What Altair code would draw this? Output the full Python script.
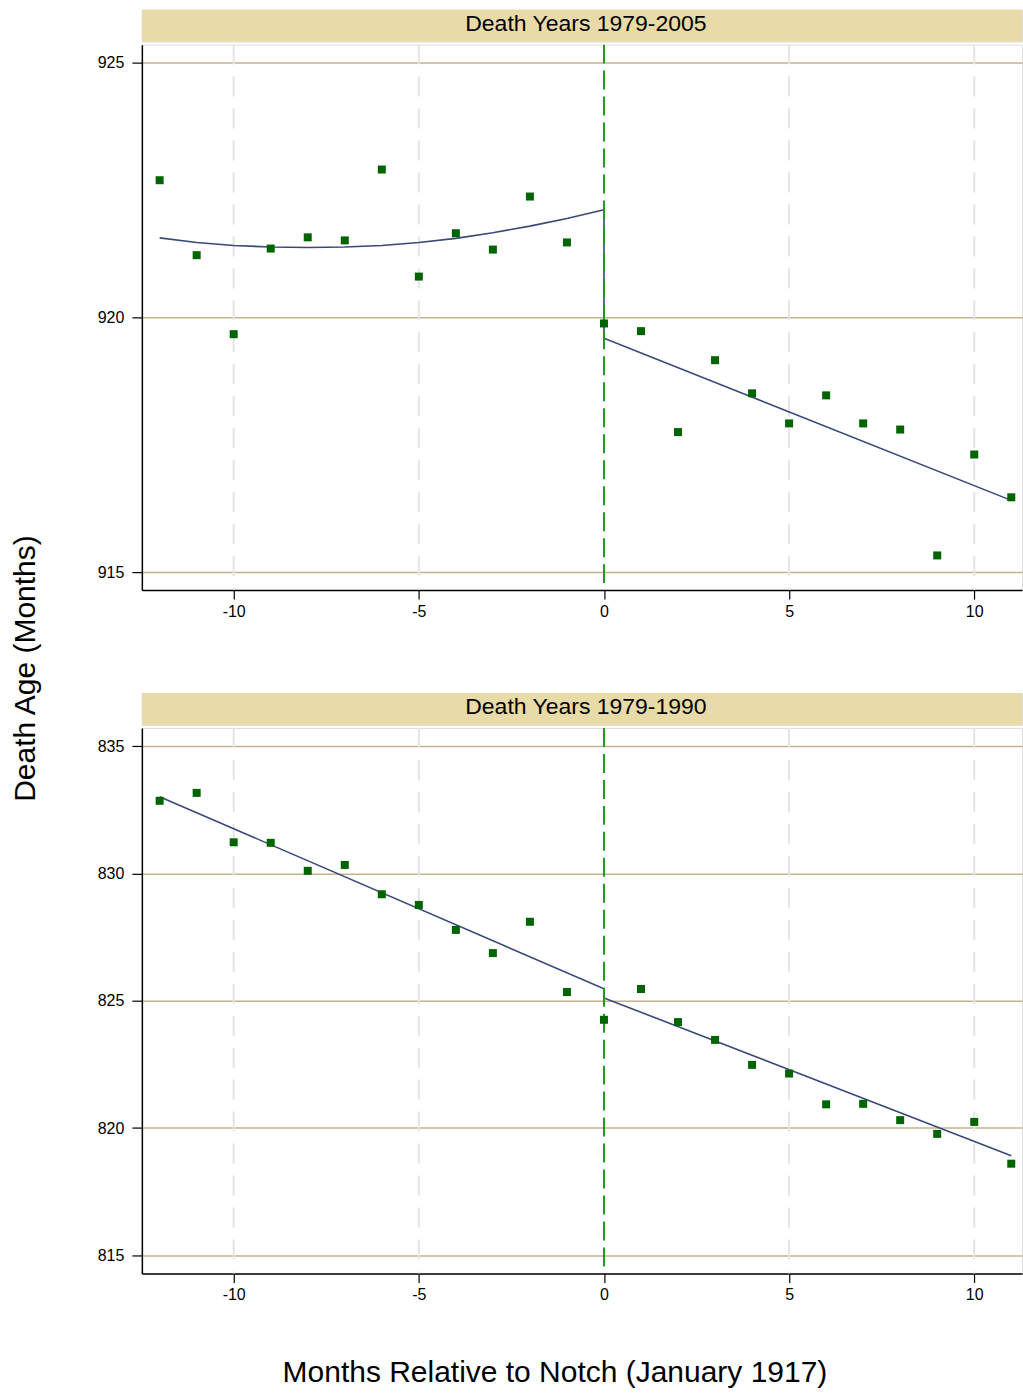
import altair as alt
import pandas as pd

# ---------------- data ----------------
months = list(range(-12, 12))

top_title = "Death Years 1979-2005"
top_age = [922.69, 921.22, 919.67, 921.35, 921.57, 921.51, 922.90, 920.80,
           921.65, 921.33, 922.37, 921.47, 919.88, 919.73, 917.75, 919.16,
           918.51, 917.92, 918.47, 917.92, 917.80, 915.33, 917.31, 916.47]
top_fit_left_x = list(range(-12, 1))
top_fit_left = [921.56, 921.47, 921.41, 921.38, 921.37, 921.38, 921.41,
                921.47, 921.55, 921.66, 921.79, 921.94, 922.11]
top_fit_right_x = [0, 11]
top_fit_right = [919.59, 916.41]
top_ticks = [915, 920, 925]
top_domain = [914.65, 925.35]

bot_title = "Death Years 1979-1990"
bot_age = [832.85, 833.16, 831.22, 831.20, 830.10, 830.33, 829.18, 828.76,
           827.78, 826.87, 828.10, 825.34, 824.25, 825.46, 824.16, 823.46,
           822.48, 822.14, 820.93, 820.95, 820.31, 819.77, 820.24, 818.60]
bot_fit_left_x = [-12, 0]
bot_fit_left = [833.01, 825.47]
bot_fit_right_x = [0, 11]
bot_fit_right = [825.11, 818.91]
bot_ticks = [815, 820, 825, 830, 835]
bot_domain = [814.29, 835.71]

x_ticks = [-10, -5, 0, 5, 10]
vgrid_x = [-10, -5, 5, 10]
notch_x = [0]
x_domain = [-12.48, 11.29]

# ---------------- styling ----------------
FONT = "Liberation Sans"
W, H, SH = 881, 546, 32
STRIP = "#E8DBA8"
HGRID = "#C4B38A"
VGRID = "#E4E4E4"
NOTCH = "#1E9A1E"
PT = "#006400"
FIT = "#3A4878"


def strip_chart(title):
    df = pd.DataFrame({"t": [title]})
    rect = alt.Chart(df).mark_rect(color=STRIP).encode(
        x=alt.value(0), x2=alt.value(W), y=alt.value(0), y2=alt.value(SH)
    )
    txt = alt.Chart(df).mark_text(
        font=FONT, fontSize=23, color="black", baseline="middle", align="center"
    ).encode(x=alt.value(W / 2 + 4), y=alt.value(14), text="t:N")
    return (rect + txt).properties(width=W, height=SH)


def panel(age, fl_x, fl, fr_x, fr, ticks, domain, show_xtitle):
    pts = pd.DataFrame({"x": months, "y": age})
    fit = pd.DataFrame({
        "x": fl_x + fr_x,
        "y": fl + fr,
        "o": list(range(len(fl_x) + len(fr_x))),
    })
    vg = pd.DataFrame({"x": vgrid_x})
    nx = pd.DataFrame({"x": notch_x})

    common = dict(
        values=x_ticks, grid=False, domainColor="black", domainWidth=1.5,
        tickColor="black", tickSize=9, tickWidth=1.2, labelFont=FONT,
        labelFontSize=16, labelColor="black", labelPadding=4,
        labelExpr="datum.value + ''",
    )
    if show_xtitle:
        xaxis = alt.Axis(
            title="Months Relative to Notch (January 1917)",
            titleFont=FONT, titleFontSize=30, titleFontWeight="normal",
            titleColor="black", titlePadding=55, titleX=413, **common,
        )
    else:
        xaxis = alt.Axis(title=None, **common)
    xs = alt.Scale(domain=x_domain, nice=False, zero=False)
    ys = alt.Scale(domain=domain, nice=False, zero=False)
    yaxis = alt.Axis(
        values=ticks, grid=True, gridColor=HGRID, gridWidth=1.5,
        domainColor="black", domainWidth=1.5, tickColor="black", tickSize=10,
        tickWidth=1.2, labelFont=FONT, labelFontSize=16, labelColor="black",
        labelPadding=8, title=None,
    )

    vgrid = alt.Chart(vg).mark_rule(
        color=VGRID, strokeWidth=2, strokeDash=[20, 12]
    ).encode(x=alt.X("x:Q", scale=xs, axis=xaxis))
    notch = alt.Chart(nx).mark_rule(
        color=NOTCH, strokeWidth=2, strokeDash=[19, 7]
    ).encode(x=alt.X("x:Q", scale=xs))
    line = alt.Chart(fit).mark_line(color=FIT, strokeWidth=1.6).encode(
        x=alt.X("x:Q", scale=xs),
        y=alt.Y("y:Q", scale=ys, axis=yaxis),
        order="o:Q",
    )
    points = alt.Chart(pts).mark_square(color=PT, size=64, opacity=1).encode(
        x=alt.X("x:Q", scale=xs),
        y=alt.Y("y:Q", scale=ys),
    )
    return alt.layer(vgrid, line, notch, points).properties(width=W, height=H)


top = alt.vconcat(
    strip_chart(top_title),
    panel(top_age, top_fit_left_x, top_fit_left, top_fit_right_x,
          top_fit_right, top_ticks, top_domain, False),
    spacing=0,
)
bot = alt.vconcat(
    strip_chart(bot_title),
    panel(bot_age, bot_fit_left_x, bot_fit_left, bot_fit_right_x,
          bot_fit_right, bot_ticks, bot_domain, True),
    spacing=0,
)

chart = alt.vconcat(top, bot, spacing=72).properties(
    title=alt.TitleParams(
        "Death Age (Months)", orient="left", anchor="middle", font=FONT,
        fontSize=30, fontWeight="normal", color="black", offset=56, dx=30,
    ),
    padding={"left": 10, "top": 8, "right": 0, "bottom": 0},
).configure_view(stroke=None).configure(background="white")

chart.save("out.html", embed_options={"renderer": "svg", "actions": False})
